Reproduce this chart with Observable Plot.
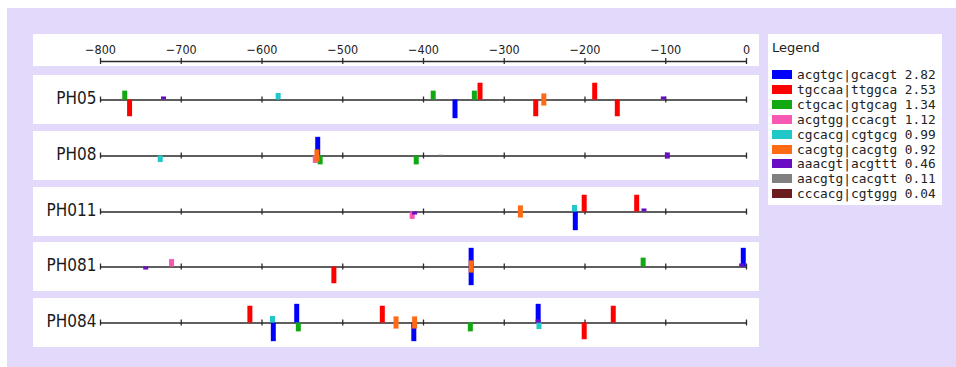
<!DOCTYPE html>
<html><head><meta charset="utf-8">
<script src="https://cdn.jsdelivr.net/npm/d3@7"></script>
<script src="https://cdn.jsdelivr.net/npm/@observablehq/plot@0.6"></script>
<style>
body{margin:0;background:#fff;width:956px;height:367px;overflow:hidden;position:relative;}
#bg{position:absolute;left:7px;top:8px;width:949px;height:359px;background:#e2d9fb;}
.panel{position:absolute;left:33px;width:726px;background:#fff;}
.panel svg{display:block;}
#legend{position:absolute;left:768px;top:34px;width:174px;height:171px;background:#fff;color:#222;}
#legend .title{position:absolute;left:4px;top:6px;line-height:16px;font-family:"DejaVu Sans",sans-serif;font-size:13px;}
#legend .row{position:absolute;left:4px;height:15px;display:flex;align-items:center;}
#legend .sw{width:20px;height:9px;margin-right:5px;}
#legend .lab{font-family:"DejaVu Sans Mono",monospace;font-size:12.8px;line-height:15px;white-space:pre;}
</style></head><body>
<div id="bg"></div>
<div id="axis" class="panel" style="top:34px;height:32px"></div>
<div id="rows"></div>
<div id="legend"></div>
<script>
const samples = ["PH05", "PH08", "PH011", "PH081", "PH084"];
const motifs = ["acgtgc|gcacgt", "tgccaa|ttggca", "ctgcac|gtgcag", "acgtgg|ccacgt", "cgcacg|cgtgcg", "cacgtg|cacgtg", "aaacgt|acgttt", "aacgtg|cacgtt", "cccacg|cgtggg"];
const scores = [2.82, 2.53, 1.34, 1.12, 0.99, 0.92, 0.46, 0.11, 0.04];
const colors = ["#0000ff", "#ff0000", "#12a812", "#f857b4", "#22c8c8", "#ff6a14", "#6a0cc4", "#808080", "#6b1c1e"];
const ticks = [-800, -700, -600, -500, -400, -300, -200, -100, 0];

// sites: [position, motif index, strand (+1 above, -1 below, 0 both)]
const PH05 = [[-770,2,1],[-764,1,-1],[-722,6,1],[-602,8,1],[-580,4,1],[-388,2,1],[-361,0,-1],[-337,2,1],[-330,1,1],[-261,1,-1],[-251,5,0],[-188,1,1],[-160,1,-1],[-103,6,1]];
const PH08 = [[-726,4,-1],[-531,0,1],[-534,3,-1],[-528,2,-1],[-532,5,0],[-409,2,-1],[-379,7,1],[-98,6,0]];
const PH011 = [[-500,8,-1],[-414,3,-1],[-411,6,-1],[-280,5,0],[-213,4,1],[-212,0,-1],[-201,1,1],[-136,1,1],[-127,6,1]];
const PH081 = [[-744,6,-1],[-712,3,1],[-511,1,-1],[-341,0,1],[-341,0,-1],[-341,5,0],[-128,2,1],[-4,0,1],[-6,6,1]];
const PH084 = [[-615,1,1],[-587,4,1],[-586,0,-1],[-557,0,1],[-555,2,-1],[-451,1,1],[-434,5,0],[-411,5,0],[-412,0,-1],[-342,2,-1],[-258,0,1],[-257,4,-1],[-258,6,1],[-201,1,-1],[-165,1,1]];
const sites = {PH05, PH08, PH011, PH081, PH084};

const font = '"DejaVu Sans Condensed","DejaVu Sans",sans-serif';
const ink = "#2a2a2a";

// top axis panel
const axis = Plot.plot({
  width: 726, height: 32, marginLeft: 67, marginRight: 13, marginTop: 24, marginBottom: 2,
  x: {domain: [-800, 0], axis: null},
  y: {domain: [-1, 1], axis: null},
  style: {background: "transparent", fontFamily: font, fontStretch: "condensed", overflow: "visible"},
  marks: [
    Plot.ruleY([0], {x1: -800, x2: 0, stroke: ink, strokeWidth: 1.3}),
    Plot.ruleX(ticks, {x: d => d, y1: () => -1, y2: () => 1, stroke: ink, strokeWidth: 1.3}),
    Plot.text(ticks, {x: d => d, y: () => 1, dy: -8.5, text: d => d3.format("d")(d), lineAnchor: "middle", fontSize: 12.5, fill: "#222"})
  ]
});
document.getElementById("axis").appendChild(axis);

// rows
const rows = document.getElementById("rows");
samples.forEach((name, i) => {
  const data = sites[name]
    .map(([pos, m, strand]) => ({pos, motif: motifs[m], m, strand, score: scores[m]}))
    .sort((a, b) => a.m - b.m);
  const div = document.createElement("div");
  div.className = "panel";
  div.style.top = (75 + i * 55.8) + "px";
  div.style.height = "49px";
  const chart = Plot.plot({
    width: 726, height: 49, marginLeft: 67, marginRight: 13, marginTop: 0, marginBottom: 0,
    x: {domain: [-800, 0], axis: null},
    y: {domain: [-3.7, 3.7], axis: null},
    color: {domain: motifs, range: colors},
    style: {background: "transparent", fontFamily: font, fontStretch: "condensed", overflow: "visible"},
    marks: [
      Plot.ruleY([0], {x1: -800, x2: 0, stroke: ink, strokeWidth: 1.3}),
      Plot.ruleX(ticks, {x: d => d, y1: () => -0.45, y2: () => 0.45, stroke: ink, strokeWidth: 1.3}),
      Plot.ruleX(data, {
        x: "pos",
        y1: d => d.strand === 0 ? -d.score : 0,
        y2: d => d.strand === 0 ? d.score : d.strand * d.score,
        stroke: "motif", strokeWidth: 5
      }),
      Plot.text([name], {x: () => -800, y: () => 0, text: d => d, textAnchor: "end", dx: -4, dy: -1, lineAnchor: "middle", fontSize: 17, fill: "#1a1a1a"})
    ]
  });
  div.appendChild(chart);
  rows.appendChild(div);
});

// legend
const leg = d3.select("#legend");
leg.append("div").attr("class", "title").text("Legend");
motifs.forEach((m, i) => {
  const r = leg.append("div").attr("class", "row").style("top", (33 + i * 14.9) + "px");
  r.append("div").attr("class", "sw").style("background", colors[i]);
  r.append("div").attr("class", "lab").text(m + " " + scores[i].toFixed(2));
});
</script>
</body></html>
